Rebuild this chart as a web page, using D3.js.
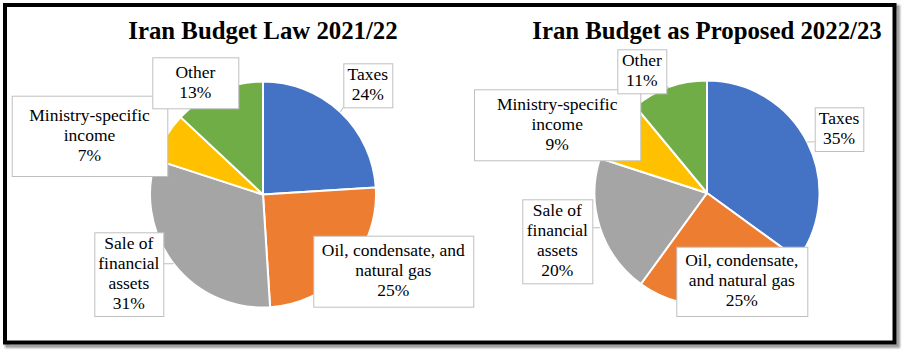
<!DOCTYPE html>
<html>
<head>
<meta charset="utf-8">
<script src="https://cdn.jsdelivr.net/npm/d3@7/dist/d3.min.js"></script>
<style>
  html, body { margin: 0; padding: 0; background: #fff; }
  svg { display: block; }
  text { font-family: "Liberation Serif", "Times New Roman", serif; }
</style>
</head>
<body>
<svg id="chart" width="906" height="354"></svg>
<script>
// Revenue sources, in the order they run clockwise from 12 o'clock
const categories = ["Taxes", "Oil, condensate, and natural gas", "Sale of financial assets", "Ministry-specific income", "Other"];
const law2021 = [24, 25, 31, 7, 13];
const proposed2022 = [35, 25, 20, 9, 11];
const titles = ["Iran Budget Law 2021/22", "Iran Budget as Proposed 2022/23"];

// Label line breaks for each chart (category text split as shown in the label boxes)
const labelLines2021 = [["Taxes"], ["Oil, condensate, and", "natural gas"], ["Sale of", "financial", "assets"], ["Ministry-specific", "income"], ["Other"]];
const labelLines2022 = [["Taxes"], ["Oil, condensate,", "and natural gas"], ["Sale of", "financial", "assets"], ["Ministry-specific", "income"], ["Other"]];

const colors = ["#4472C4", "#ED7D31", "#A5A5A5", "#FFC000", "#70AD47"];

// Layout: pie centres / radius and label box placement (relative to pie centre)
const layout = [
  { cx: 263, cy: 194.5, r: 113, boxes: [
      { dx: 80.3, dy: -131.2, w: 49, h: 44 },
      { dx: 50.3, dy: 41.2, w: 160, h: 71 },
      { dx: -168.7, dy: 37.8, w: 69, h: 83.7 },
      { dx: -251.3, dy: -98.8, w: 155.6, h: 80.3 },
      { dx: -110.7, dy: -137.2, w: 86, h: 51 } ] },
  { cx: 707, cy: 193, r: 112.5, boxes: [
      { dx: 107.7, dy: -85.7, w: 48.6, h: 43.7 },
      { dx: -30.7, dy: 53.7, w: 131, h: 69.3 },
      { dx: -184.7, dy: 6.3, w: 70, h: 84 },
      { dx: -233, dy: -103.7, w: 166.3, h: 71 },
      { dx: -89.7, dy: -143.7, w: 49, h: 44 } ] }
];

const svg = d3.select("#chart");

// Frame with a soft drop shadow
const defs = svg.append("defs");
const f = defs.append("filter").attr("id", "shadow").attr("x", "-5%").attr("y", "-5%").attr("width", "110%").attr("height", "110%");
f.append("feGaussianBlur").attr("stdDeviation", 1.2);
svg.append("rect").attr("x", 7).attr("y", 7).attr("width", 891).attr("height", 339)
  .attr("fill", "none").attr("stroke", "#9a9a9a").attr("stroke-width", 4).attr("filter", "url(#shadow)");
svg.append("rect").attr("x", 5).attr("y", 5).attr("width", 889.5).attr("height", 337.5)
  .attr("fill", "#fff").attr("stroke", "#000").attr("stroke-width", 4);

const pie = d3.pie().sort(null).value(d => d);
const datasets = [law2021, proposed2022];
const lineSets = [labelLines2021, labelLines2022];

datasets.forEach((values, k) => {
  const L = layout[k];
  const g = svg.append("g").attr("transform", `translate(${L.cx},${L.cy})`);
  const arcs = pie(values);
  const arc = d3.arc().innerRadius(0).outerRadius(L.r);

  g.selectAll("path.slice").data(arcs).join("path")
    .attr("class", "slice")
    .attr("d", arc)
    .attr("fill", (d, i) => colors[i])
    .attr("stroke", "#fff")
    .attr("stroke-width", 2)
    .attr("stroke-linejoin", "round");

  // Title centred over the pie
  svg.append("text")
    .attr("x", L.cx).attr("y", 39)
    .attr("text-anchor", "middle")
    .attr("font-weight", "bold")
    .attr("font-size", 24.8)
    .attr("fill", "#000")
    .text(titles[k]);

  // Data labels with leader lines
  arcs.forEach((d, i) => {
    const b = L.boxes[i];
    const mid = (d.startAngle + d.endAngle) / 2;
    const px = Math.sin(mid) * L.r, py = -Math.cos(mid) * L.r;
    const x0 = b.dx, y0 = b.dy, x1 = b.dx + b.w, y1 = b.dy + b.h;
    const inside = px >= x0 && px <= x1 && py >= y0 && py <= y1;
    if (!inside) {
      const qx = Math.max(x0, Math.min(x1, px));
      const qy = Math.max(y0, Math.min(y1, py));
      g.append("line")
        .attr("x1", px).attr("y1", py).attr("x2", qx).attr("y2", qy)
        .attr("stroke", "#bfbfbf").attr("stroke-width", 1);
    }
    g.append("rect")
      .attr("x", x0 + 0.5).attr("y", y0 + 0.5).attr("width", b.w).attr("height", b.h)
      .attr("fill", "#fff").attr("stroke", "#bfbfbf").attr("stroke-width", 1);
    const lines = lineSets[k][i].concat([values[i] + "%"]);
    const n = lines.length;
    const cx = b.dx + b.w / 2, cy = b.dy + b.h / 2;
    const t = g.append("text")
      .attr("text-anchor", "middle")
      .attr("font-size", 17.5)
      .attr("fill", "#000");
    lines.forEach((ln, j) => {
      t.append("tspan")
        .attr("x", cx)
        .attr("y", cy + (j - (n - 1) / 2) * 20 + 5)
        .text(ln);
    });
  });
});
</script>
</body>
</html>
